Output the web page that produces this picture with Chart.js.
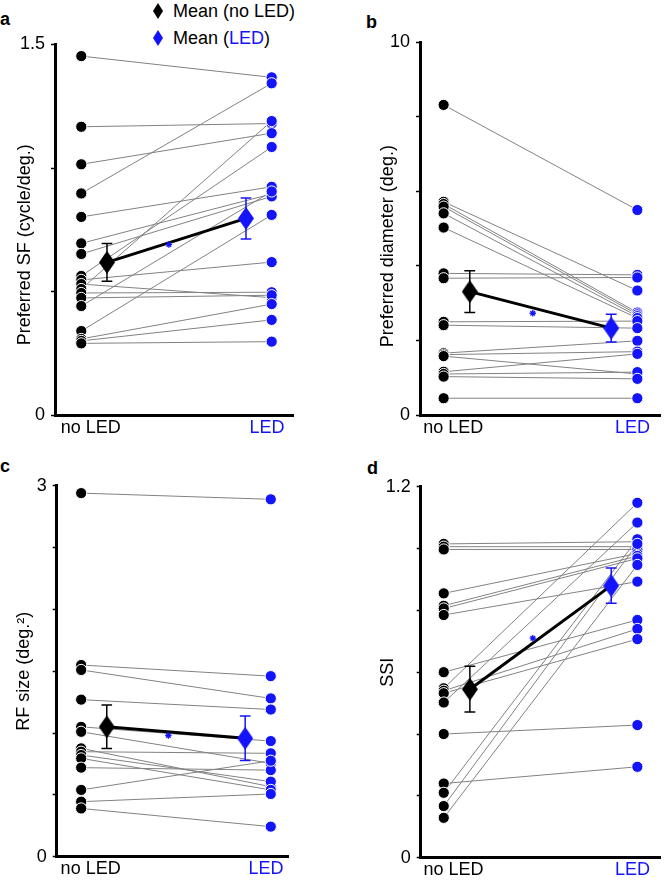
<!DOCTYPE html>
<html><head><meta charset="utf-8">
<script src="https://cdn.jsdelivr.net/npm/chart.js@4"></script>
<style>
body{margin:0;background:#fff;width:667px;height:880px;position:relative;overflow:hidden;font-family:"Liberation Sans",Arial,sans-serif;color:#000}
.wrap{position:absolute}
.lbl{position:absolute;font-weight:bold;font-size:18px;line-height:20px}
.leg{position:absolute;font-size:18px;line-height:22px;white-space:nowrap}
</style></head>
<body>
<div class="lbl" style="left:0;top:9px">a</div>
<div class="lbl" style="left:366px;top:12px">b</div>
<div class="lbl" style="left:0;top:456px">c</div>
<div class="lbl" style="left:367px;top:458px">d</div>
<svg style="position:absolute;left:153px;top:3px" width="10" height="16"><polygon points="5,0 10,8 5,16 0,8" fill="#000"/></svg>
<div class="leg" style="left:173px;top:0">Mean (no LED)</div>
<svg style="position:absolute;left:153px;top:30px" width="10" height="16"><polygon points="5,0 10,8 5,16 0,8" fill="rgb(20,20,250)"/></svg>
<div class="leg" style="left:173px;top:27px">Mean (<span style="color:rgb(20,20,250)">LED</span>)</div>

<div class="wrap" id="wa"><canvas id="ca"></canvas></div>
<div class="wrap" id="wb"><canvas id="cb"></canvas></div>
<div class="wrap" id="wc"><canvas id="cc"></canvas></div>
<div class="wrap" id="wd"><canvas id="cd"></canvas></div>
<script>
// ---------- data ----------
const categories = ['no LED', 'LED'];
const yTitles = ['Preferred SF (cycle/deg.)', 'Preferred diameter (deg.)', 'RF size (deg.\u00b2)', 'SSI'];
const yMax = [1.5, 10, 3, 1.2];
const yStep = [0.5, 2, 0.5, 0.2];
const yTickLabels = [['0', '1.5'], ['0', '10'], ['0', '3'], ['0', '1.2']];

const noLED_a = [1.453, 1.167, 1.015, 0.897, 0.802, 0.695, 0.652, 0.563, 0.547, 0.530, 0.510, 0.494, 0.474, 0.441, 0.340, 0.308, 0.300, 0.290];
const LED_a   = [1.367, 1.180, 1.141, 1.343, 0.924, 0.895, 0.885, 1.085, 0.619, 0.475, 1.190, 0.497, 0.485, 0.905, 0.810, 0.449, 0.385, 0.297];

const noLED_b = [8.32, 5.72, 5.66, 5.59, 5.41, 5.03, 3.80, 3.67, 2.50, 2.41, 1.66, 1.62, 1.58, 1.16, 1.10, 1.03, 0.45];
const LED_b   = [5.50, 3.34, 2.75, 2.70, 2.65, 2.60, 3.76, 3.69, 2.52, 2.33, 1.99, 1.70, 1.10, 1.64, 1.15, 0.97, 0.45];

const noLED_c = [2.94, 1.55, 1.51, 1.27, 1.05, 1.01, 0.876, 0.849, 0.822, 0.795, 0.72, 0.54, 0.445, 0.39];
const LED_c   = [2.89, 1.46, 1.28, 1.19, 0.935, 0.755, 0.566, 0.836, 0.607, 0.54, 0.70, 0.776, 0.507, 0.243];

const noLED_d = [1.015, 1.006, 0.997, 0.855, 0.815, 0.806, 0.785, 0.60, 0.548, 0.54, 0.532, 0.502, 0.40, 0.24, 0.21, 0.167, 0.129];
const LED_d   = [1.022, 1.006, 0.997, 0.984, 0.976, 0.968, 0.893, 0.769, 1.148, 0.74, 0.707, 1.084, 0.429, 0.294, 1.03, 1.015, 0.947];

const meanNoLED = [0.618, 3.31, 1.05, 0.545];
const errNoLED  = [0.076, 0.56, 0.176, 0.074];
const meanLED   = [0.796, 2.33, 0.957, 0.88];
const errLED    = [0.083, 0.37, 0.18, 0.057];
const sigY      = [0.69, 2.73, 0.98, 0.71];

// ---------- layout / style ----------
const BLUE = 'rgb(20,20,250)';
const GRAY = '#828282';
const pairsNo = [noLED_a, noLED_b, noLED_c, noLED_d];
const pairsLED = [LED_a, LED_b, LED_c, LED_d];
const L = [
  {id:'a', left:0,   top:0,   w:300, h:440, padTop:44.5, padRight:2, yW:55,   xH:25,   xMin:-0.138, xMax:1.114, titlePad:14, titleShift:6},
  {id:'b', left:365, top:0,   w:302, h:440, padTop:42.3, padRight:0, yW:55,   xH:25,   xMin:-0.122, xMax:1.119, titlePad:12, titleShift:7},
  {id:'c', left:0,   top:440, w:295, h:440, padTop:45.7, padRight:2, yW:56.7, xH:23.3, xMin:-0.129, xMax:1.093, titlePad:13, titleShift:0},
  {id:'d', left:365, top:440, w:302, h:440, padTop:46.7, padRight:0, yW:55.7, xH:22.3, xMin:-0.119, xMax:1.119, titlePad:12, titleShift:0}
];
const X_NO = 0, X_LED = 1, MEAN_X = [0.135, 0.865], CAP = 0.028, SIG_X = 0.46, XLAB = [0.05, 0.975];

function diamond(color){
  const c = document.createElement('canvas'); c.width = 16; c.height = 23;
  const g = c.getContext('2d'); g.fillStyle = color; g.beginPath();
  g.moveTo(8,0); g.lineTo(16,11.5); g.lineTo(8,23); g.lineTo(0,11.5); g.closePath(); g.fill();
  return c;
}
function errBar(x, m, e){
  return [{x:x, y:m-e}, {x:x, y:m+e}, {x:x, y:null},
          {x:x-CAP, y:m+e}, {x:x+CAP, y:m+e}, {x:x, y:null},
          {x:x-CAP, y:m-e}, {x:x+CAP, y:m-e}];
}

Chart.defaults.font.family = '"Liberation Sans", Arial, sans-serif';
Chart.defaults.font.size = 18;
Chart.defaults.color = '#000';

L.forEach((cfg, p) => {
  const w = document.getElementById('w' + cfg.id);
  w.style.left = cfg.left + 'px'; w.style.top = cfg.top + 'px';
  const cv = document.getElementById('c' + cfg.id);
  cv.width = cfg.w; cv.height = cfg.h;
  cv.style.width = cfg.w + 'px'; cv.style.height = cfg.h + 'px';

  const no = pairsNo[p], led = pairsLED[p];
  const pairLine = [];
  no.forEach((v, i) => { pairLine.push({x:X_NO, y:v}, {x:X_LED, y:led[i]}, {x:0.5, y:null}); });

  new Chart(cv, {
    type: 'scatter',
    data: { datasets: [
      {type:'line', data: pairLine, borderColor: GRAY, borderWidth: 1, pointRadius: 0, spanGaps: false, order: 6, clip: false},
      {type:'scatter', data: no.map(v => ({x:X_NO, y:v})), backgroundColor:'#000', borderColor:'#fff', borderWidth:1, pointRadius:5.6, order:5, clip:false},
      {type:'scatter', data: led.map(v => ({x:X_LED, y:v})), backgroundColor:BLUE, borderColor:'#fff', borderWidth:1, pointRadius:5.6, order:5, clip:false},
      {type:'line', data: [{x:MEAN_X[0], y:meanNoLED[p]}, {x:MEAN_X[1], y:meanLED[p]}], borderColor:'#000', borderWidth:3, pointRadius:0, order:3, clip:false},
      {type:'line', data: errBar(MEAN_X[0], meanNoLED[p], errNoLED[p]), borderColor:'#000', borderWidth:1.5, pointRadius:0, spanGaps:false, order:2, clip:false},
      {type:'line', data: errBar(MEAN_X[1], meanLED[p], errLED[p]), borderColor:BLUE, borderWidth:1.5, pointRadius:0, spanGaps:false, order:2, clip:false},
      {type:'scatter', data: [{x:MEAN_X[0], y:meanNoLED[p]}], pointStyle: diamond('#000'), order:1, clip:false},
      {type:'scatter', data: [{x:MEAN_X[1], y:meanLED[p]}], pointStyle: diamond(BLUE), order:1, clip:false},
      {type:'scatter', data: [{x:SIG_X, y:sigY[p]}], pointStyle:'star', pointRadius:3.2, borderColor:BLUE, borderWidth:1.3, order:0, clip:false}
    ]},
    options: {
      responsive:false, animation:false, events:[],
      layout:{padding:{top:cfg.padTop, right:cfg.padRight, left:0, bottom:0}},
      plugins:{legend:{display:false}, tooltip:{enabled:false}},
      scales:{
        x:{type:'linear', min:cfg.xMin, max:cfg.xMax,
           afterFit(s){ s.height = cfg.xH; },
           afterBuildTicks(s){ s.ticks = XLAB.map(v => ({value:v})); },
           grid:{display:false, drawTicks:false},
           border:{display:true, color:'#000', width:3},
           ticks:{autoSkip:false, maxRotation:0, minRotation:0, padding:2,
                  callback:(v, i) => categories[i],
                  color:(ctx) => ctx.index === 0 ? '#000' : BLUE}},
        y:{type:'linear', min:0, max:yMax[p],
           afterFit(s){ s.width = cfg.yW; },
           ticks:{stepSize:yStep[p], padding:6, color:'#000',
                  callback:(v, i, t) => i === 0 ? yTickLabels[p][0] : (i === t.length - 1 ? yTickLabels[p][1] : '')},
           grid:{display:true, drawOnChartArea:false, drawTicks:true, tickLength:4, tickColor:'#000', tickWidth:1.5},
           border:{display:true, color:'#000', width:3},
           title:{display:true, text:yTitles[p] + '\u00a0'.repeat(cfg.titleShift), color:'#000', padding:{top:cfg.titlePad, bottom:0}}}
      }
    }
  });
});
</script>
</body></html>
